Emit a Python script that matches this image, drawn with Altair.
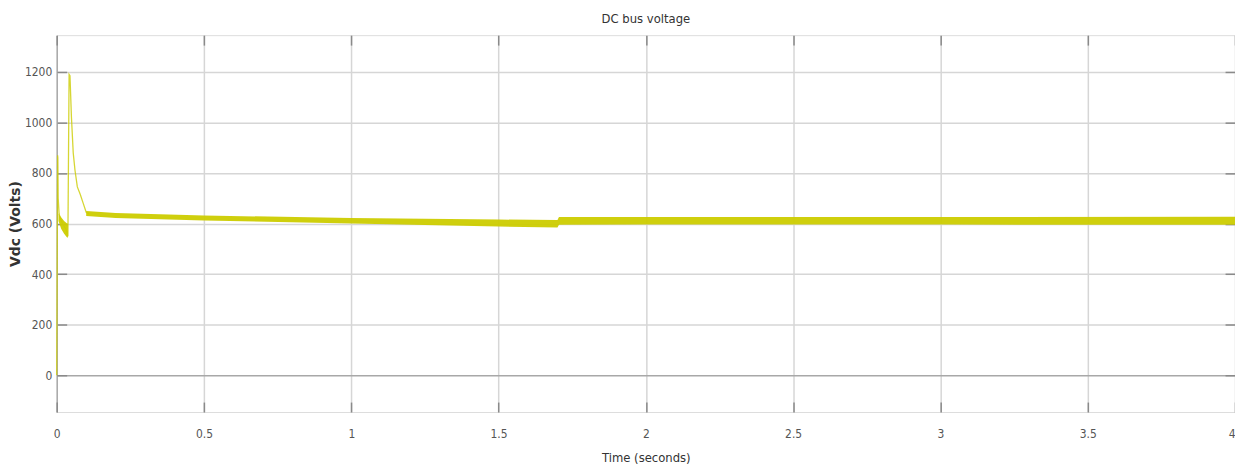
import altair as alt
import pandas as pd

# Transient (thin trace)
tr_t = [0, 0.003, 0.0038, 0.005, 0.008, 0.012, 0.02, 0.03, 0.036, 0.038, 0.042, 0.045,
        0.05, 0.056, 0.062, 0.07, 0.08, 0.09, 0.1, 0.11]
tr_v = [0, 870, 860, 700, 640, 620, 600, 580, 560, 550, 1190, 1185,
        1020, 880, 811, 745, 715, 680, 645, 638]

# Ripple band (thick trace): segment, time, lower, upper
bd_seg = ["a"] * 5 + ["b"] * 10
bd_t = [0.006, 0.015, 0.025, 0.035, 0.038,
        0.1, 0.2, 0.5, 1.0, 1.5, 1.7, 1.705, 2.0, 3.0, 4.0]
bd_lo = [610, 580, 560, 545, 545,
         630, 622, 612, 600, 588, 585, 595, 596, 596, 595]
bd_hi = [640, 625, 610, 600, 600,
         650, 642, 632, 622, 616, 614, 626, 626, 626, 627]

x_ticks = [0, 0.5, 1, 1.5, 2, 2.5, 3, 3.5, 4]
y_ticks = [0, 200, 400, 600, 800, 1000, 1200]

tr = pd.DataFrame({"t": tr_t, "v": tr_v})
bd = pd.DataFrame({"seg": bd_seg, "t": bd_t, "lo": bd_lo, "hi": bd_hi})

FONT = "DejaVu Sans Condensed, Liberation Sans, sans-serif"
LINE = "#cccc00"

xs = alt.Scale(domain=[0, 4], nice=False, zero=False)
ys = alt.Scale(domain=[-145, 1345], nice=False, zero=False)

grid_color = {"condition": {"test": "datum.value === 0", "value": "#a8a8a8"}, "value": "#d6d6d6"}
x_label_align = {"condition": {"test": "datum.value === 4", "value": "right"}, "value": "center"}

x_axis = alt.Axis(values=x_ticks, format="~g", title="Time (seconds)", grid=True, gridColor=grid_color,
                  gridWidth=1.5, domain=False, offset=-10, tickSize=10, tickColor="#8a8a8a",
                  tickWidth=1.5, labelPadding=17, labelFont=FONT, labelFontSize=12,
                  labelAlign=x_label_align,
                  labelColor="#555555", labelFlush=False, titleFont=FONT, titleFontSize=13,
                  titleFontWeight="normal", titleColor="#333333", titlePadding=12)
y_axis = alt.Axis(values=y_ticks, format="d", title="Vdc (Volts)", grid=True, gridColor=grid_color,
                  gridWidth=1.5, domain=False, offset=-10, tickSize=10, tickColor="#8a8a8a",
                  tickWidth=1.5, labelPadding=5, labelFont=FONT, labelFontSize=12,
                  labelColor="#555555", titleFont="DejaVu Sans, sans-serif", titleFontSize=14,
                  titleFontWeight="bold", titleColor="#333333", titlePadding=2)

line = alt.Chart(tr).mark_line(color=LINE, strokeWidth=1.3, opacity=0.8).encode(
    x=alt.X("t:Q", scale=xs, axis=x_axis),
    y=alt.Y("v:Q", scale=ys, axis=y_axis),
)

x_axis2 = alt.Axis(values=x_ticks, orient="top", title="", labels=False, grid=False, domain=False,
                   offset=-10, tickSize=10, tickColor="#8a8a8a", tickWidth=1.5)
y_axis2 = alt.Axis(values=y_ticks, orient="right", title="", labels=False, grid=False, domain=False,
                   offset=-10, tickSize=10, tickColor="#8a8a8a", tickWidth=1.5)

band = alt.Chart(bd).mark_area(color=LINE, opacity=0.95).encode(
    x=alt.X("t:Q", scale=xs, axis=x_axis2),
    y=alt.Y("lo:Q", scale=ys, axis=y_axis2),
    y2="hi:Q",
    detail="seg:N",
)

chart = alt.layer(line, band).resolve_axis(x="independent", y="independent").properties(
    width=1185,
    height=379,
    title=alt.TitleParams("DC bus voltage", font=FONT, fontSize=13, fontWeight="normal",
                          color="#333333", offset=8),
    autosize=alt.AutoSizeParams(type="none"),
    padding={"left": 49, "top": 26, "right": 0, "bottom": 56},
).configure_view(stroke="#9a9a9a", strokeWidth=2).configure(background="white")

chart.save("out.html", embed_options={"renderer": "svg", "actions": False})
